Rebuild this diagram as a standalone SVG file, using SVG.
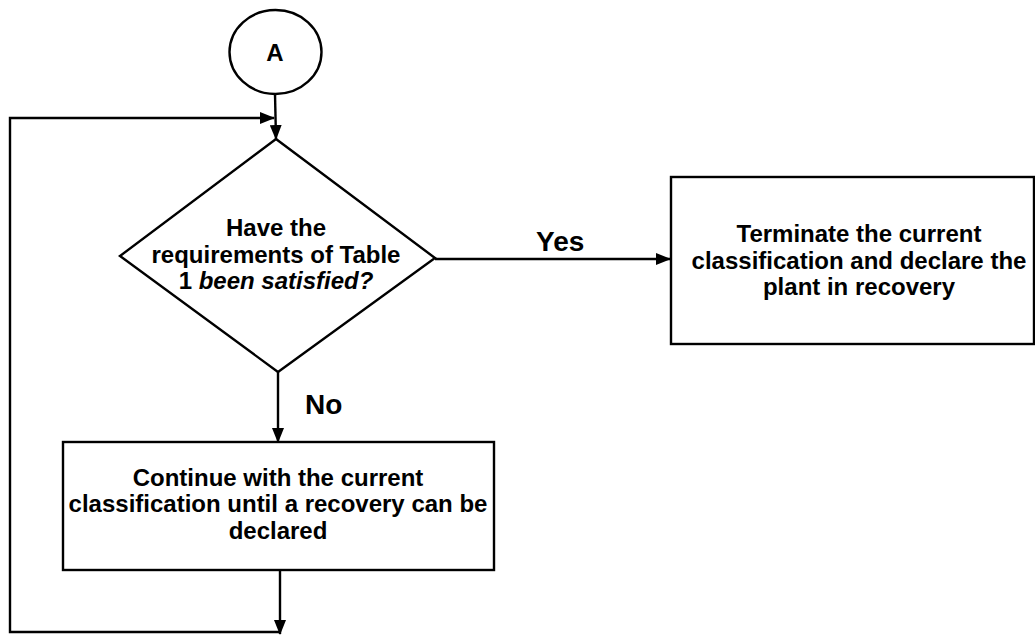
<svg xmlns="http://www.w3.org/2000/svg" width="1035" height="636" viewBox="0 0 1035 636">
<style>
.s{fill:none;stroke:#000;stroke-width:2.4}
.n{fill:#fff;stroke:#000;stroke-width:2.4}
.t{font-family:"Liberation Sans",Arial,sans-serif;font-weight:bold;font-size:24px;fill:#000;text-anchor:middle}
.l{font-family:"Liberation Sans",Arial,sans-serif;font-weight:bold;font-size:28px;fill:#000}
</style>
<defs>
<marker id="ah" markerWidth="15" markerHeight="12" refX="14" refY="6" orient="auto" markerUnits="userSpaceOnUse">
<path d="M0,0 L15,6 L0,12 Z" fill="#000"/>
</marker>
</defs>
<rect width="1035" height="636" fill="#fff"/>
<g id="connectors">
<line class="s" x1="275" y1="94" x2="276" y2="139" marker-end="url(#ah)"/>
<line class="s" x1="280" y1="570" x2="280" y2="634" marker-end="url(#ah)"/>
<polyline class="s" points="280,632 10,632 10,118 274,118" marker-end="url(#ah)"/>
<line class="s" x1="435" y1="259" x2="670" y2="259" marker-end="url(#ah)"/>
<line class="s" x1="278" y1="372" x2="278" y2="442" marker-end="url(#ah)"/>
<text class="l" x="536" y="251">Yes</text>
<text class="l" x="305" y="414">No</text>
</g>
<g id="start">
<ellipse class="n" cx="275.5" cy="52" rx="46" ry="42"/>
<text class="t" x="275" y="61">A</text>
</g>
<g id="decision">
<polygon class="n" points="276,139 435,258 278,372 120,256"/>
<text class="t" x="276" y="236">Have the</text>
<text class="t" x="276" y="263">requirements of Table</text>
<text class="t" x="276" y="289">1 <tspan font-style="italic">been satisfied?</tspan></text>
</g>
<g id="terminate">
<rect class="n" x="671" y="177" width="363" height="167"/>
<text class="t" x="859" y="242">Terminate the current</text>
<text class="t" x="859" y="269">classification and declare the</text>
<text class="t" x="859" y="295">plant in recovery</text>
</g>
<g id="continue">
<rect class="n" x="63" y="442" width="431" height="128"/>
<text class="t" x="278" y="486">Continue with the current</text>
<text class="t" x="278" y="512">classification until a recovery can be</text>
<text class="t" x="278" y="539">declared</text>
</g>
</svg>
